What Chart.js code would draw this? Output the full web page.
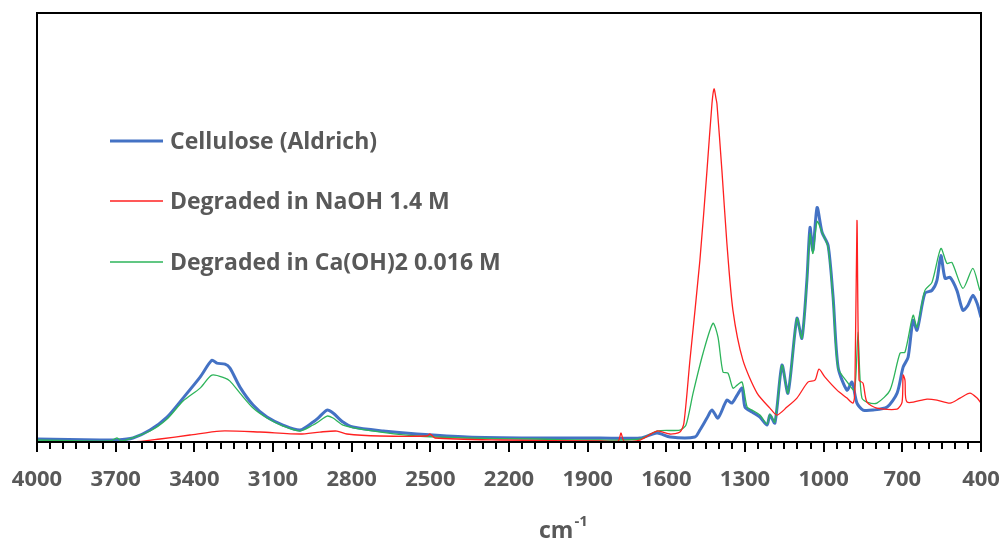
<!DOCTYPE html>
<html>
<head>
<meta charset="utf-8">
<script src="https://cdn.jsdelivr.net/npm/chart.js@4.4.1/dist/chart.umd.min.js"></script>
<style>
    html, body { margin: 0; padding: 0; background: #fff; }
    #wrap { width: 1003px; height: 540px; position: relative; }
</style>
</head>
<body>
<div id="wrap"><canvas id="c1"></canvas></div>
<script>
// wavenumbers (cm-1) and absorbance (arbitrary units)
const cellWn = [4000, 3760, 3695, 3634, 3569, 3504, 3443, 3378, 3333, 3314, 3283, 3264, 3226, 3176, 3123, 3062, 2997, 2947, 2928, 2894, 2871, 2833, 2795, 2680, 2551, 2360, 2108, 1853, 1700, 1636, 1586, 1491, 1472, 1445, 1426, 1403, 1369, 1350, 1330, 1311, 1300, 1273, 1243, 1216, 1205, 1186, 1159, 1136, 1102, 1083, 1064, 1052, 1041, 1025, 1006, 983, 964, 945, 911, 892, 873, 850, 812, 758, 720, 697, 678, 659, 644, 614, 587, 568, 553, 537, 518, 492, 469, 450, 431, 415, 400];
const cellAbs = [0.03, 0.02, 0.02, 0.04, 0.12, 0.25, 0.44, 0.65, 0.82, 0.79, 0.78, 0.74, 0.55, 0.37, 0.25, 0.17, 0.12, 0.20, 0.24, 0.32, 0.29, 0.20, 0.15, 0.11, 0.08, 0.05, 0.04, 0.04, 0.04, 0.09, 0.05, 0.05, 0.12, 0.24, 0.32, 0.24, 0.42, 0.39, 0.47, 0.54, 0.35, 0.30, 0.25, 0.17, 0.27, 0.19, 0.77, 0.49, 1.24, 1.04, 1.62, 2.15, 1.92, 2.35, 2.10, 1.97, 1.45, 0.75, 0.52, 0.60, 0.39, 0.32, 0.32, 0.35, 0.49, 0.75, 0.85, 1.22, 1.12, 1.49, 1.52, 1.62, 1.87, 1.64, 1.65, 1.52, 1.32, 1.37, 1.47, 1.39, 1.25];

const naohWn = [4000, 3634, 3531, 3417, 3302, 3150, 2997, 2921, 2856, 2818, 2692, 2513, 2501, 2482, 2234, 1853, 1784, 1773, 1761, 1700, 1636, 1586, 1548, 1533, 1510, 1472, 1445, 1426, 1418, 1411, 1407, 1388, 1369, 1346, 1308, 1254, 1205, 1178, 1140, 1102, 1060, 1033, 1018, 995, 949, 911, 888, 881, 873, 865, 850, 835, 797, 720, 701, 697, 690, 682, 606, 568, 518, 480, 442, 415, 400];
const naohAbs = [0.00, 0.00, 0.03, 0.07, 0.11, 0.10, 0.08, 0.10, 0.11, 0.08, 0.06, 0.06, 0.08, 0.04, 0.02, 0.01, 0.01, 0.09, 0.01, 0.02, 0.11, 0.08, 0.10, 0.19, 0.82, 1.82, 2.72, 3.39, 3.54, 3.45, 3.39, 2.72, 1.99, 1.32, 0.82, 0.49, 0.34, 0.27, 0.35, 0.44, 0.60, 0.62, 0.73, 0.65, 0.52, 0.44, 0.39, 0.52, 2.22, 0.62, 0.59, 0.40, 0.34, 0.33, 0.40, 0.67, 0.62, 0.40, 0.43, 0.42, 0.39, 0.44, 0.49, 0.44, 0.39];

const caWn = [4000, 3722, 3695, 3676, 3569, 3504, 3443, 3378, 3333, 3283, 3264, 3226, 3176, 3123, 3062, 2997, 2947, 2928, 2894, 2871, 2833, 2742, 2551, 2360, 2108, 1853, 1700, 1636, 1548, 1525, 1498, 1460, 1422, 1403, 1384, 1365, 1346, 1330, 1311, 1292, 1273, 1243, 1216, 1205, 1186, 1159, 1136, 1102, 1083, 1064, 1052, 1041, 1025, 1006, 983, 964, 945, 907, 884, 877, 869, 862, 854, 835, 797, 747, 709, 690, 659, 644, 614, 587, 553, 530, 511, 469, 431, 404, 400];
const caAbs = [0.02, 0.01, 0.04, 0.01, 0.11, 0.23, 0.41, 0.54, 0.67, 0.64, 0.61, 0.49, 0.34, 0.24, 0.16, 0.11, 0.17, 0.20, 0.26, 0.24, 0.17, 0.12, 0.06, 0.04, 0.03, 0.02, 0.03, 0.11, 0.12, 0.17, 0.49, 0.89, 1.19, 1.05, 0.70, 0.69, 0.54, 0.57, 0.60, 0.35, 0.32, 0.27, 0.18, 0.28, 0.20, 0.77, 0.49, 1.24, 1.04, 1.60, 2.09, 1.89, 2.21, 2.10, 1.95, 1.42, 0.74, 0.59, 0.52, 0.67, 1.10, 0.67, 0.44, 0.40, 0.39, 0.52, 0.89, 0.90, 1.27, 1.15, 1.52, 1.60, 1.94, 1.79, 1.80, 1.54, 1.74, 1.52, 1.59];

const seriesNames = ['Cellulose (Aldrich)', 'Degraded in NaOH 1.4 M', 'Degraded in Ca(OH)2 0.016 M'];
const tickLabels = [4000, 3700, 3400, 3100, 2800, 2500, 2200, 1900, 1600, 1300, 1000, 700, 400];

const textGray = '#595959';
const fontName = '"Open Sans", sans-serif';

function toPoints(xs, ys) {
    return xs.map((x, i) => ({ x: x, y: ys[i] }));
}

// frame, tick marks, legend and axis title
const decor = {
    id: 'decor',
    afterDraw(chart) {
        const ctx = chart.ctx;
        const a = chart.chartArea;
        const xs = chart.scales.x;
        ctx.save();
        ctx.strokeStyle = '#000';
        ctx.lineWidth = 2;
        ctx.strokeRect(a.left, a.top, a.right - a.left, a.bottom - a.top);

        for (let v = 400; v <= 4000; v += 50) {
            const px = Math.round(xs.getPixelForValue(v));
            const major = tickLabels.includes(v);
            ctx.beginPath();
            ctx.moveTo(px, a.bottom);
            ctx.lineTo(px, a.bottom + (major ? 10 : 7));
            ctx.stroke();
        }

        // legend
        const rows = [141, 201, 262];
        chart.data.datasets.forEach((ds, i) => {
            ctx.strokeStyle = ds.borderColor;
            ctx.lineWidth = i === 0 ? 3 : 1.5;
            ctx.beginPath();
            ctx.moveTo(110, rows[i]);
            ctx.lineTo(163, rows[i]);
            ctx.stroke();
            ctx.fillStyle = textGray;
            ctx.font = 'bold 23px ' + fontName;
            ctx.textBaseline = 'middle';
            ctx.textAlign = 'left';
            ctx.fillText(ds.label, 170, rows[i] + 1);
        });

        // axis title with superscript
        ctx.fillStyle = textGray;
        ctx.textBaseline = 'alphabetic';
        ctx.font = 'bold 23px ' + fontName;
        ctx.fillText('cm', 539, 538);
        const w = ctx.measureText('cm').width;
        ctx.font = 'bold 15px ' + fontName;
        ctx.fillText('-1', 539 + w + 1, 526);
        ctx.restore();
    }
};

document.addEventListener("DOMContentLoaded", function () {
    const canvas = document.getElementById('c1');
    canvas.width = 1003;
    canvas.height = 540;

    const colors = ['#4472C4', '#FF2020', '#2DB45A'];
    const sets = [[cellWn, cellAbs], [naohWn, naohAbs], [caWn, caAbs]];

    const datasets = sets.map((s, i) => ({
        label: seriesNames[i],
        data: toPoints(s[0], s[1]),
        borderColor: colors[i],
        borderWidth: i === 0 ? 3 : 1.3,
        pointRadius: 0,
        tension: 0.25,
        fill: false
    }));
    // thick blue goes under the thin ones, like the original
    datasets[0].order = 3;
    datasets[1].order = 1;
    datasets[2].order = 2;

    new Chart(canvas, {
        type: 'line',
        data: { datasets: datasets },
        plugins: [decor],
        options: {
            responsive: false,
            animation: false,
            layout: { padding: { left: 37, right: 22, top: 13, bottom: 0 } },
            plugins: {
                legend: { display: false },
                tooltip: { enabled: false }
            },
            scales: {
                x: {
                    type: 'linear',
                    reverse: true,
                    min: 400,
                    max: 4000,
                    grid: { display: false, drawTicks: false },
                    border: { display: false },
                    afterFit: function (s) {
                        s.height = 98;
                        s.paddingLeft = 0;
                        s.paddingRight = 0;
                    },
                    ticks: {
                        stepSize: 50,
                        autoSkip: false,
                        maxRotation: 0,
                        padding: 25,
                        color: textGray,
                        font: { family: fontName, size: 22, weight: 'bold' },
                        callback: function (value) {
                            return tickLabels.includes(value) ? String(value) : '';
                        }
                    }
                },
                y: {
                    display: false,
                    min: 0,
                    max: 4.3
                }
            }
        }
    });
});
</script>
</body>
</html>
